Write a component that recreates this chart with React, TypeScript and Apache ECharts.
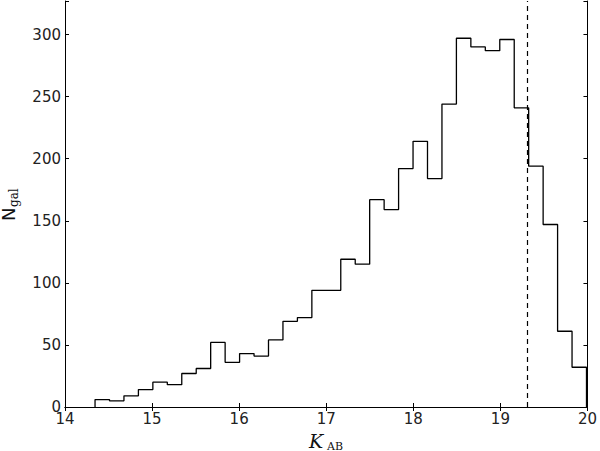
import React, { useEffect, useRef } from "react";
import * as echarts from "echarts";

// Histogram of K_AB magnitudes
const binStart = 14.345;
const binWidth = 0.166;
const counts = [
  6, 5, 9, 14, 20, 18, 27, 31, 52, 36, 43, 41, 54, 69, 72, 94, 94,
  119, 115, 167, 159, 192, 214, 184, 244, 297, 290, 287, 296, 241, 194, 147, 61, 32,
];
const limitMag = 19.31;
const xTicks = [14, 15, 16, 17, 18, 19, 20];
const yTicks = [0, 50, 100, 150, 200, 250, 300];
const yMax = 327;

export default function App() {
  const ref = useRef<HTMLDivElement>(null);
  useEffect(() => {
    if (!ref.current) return;
    document.body.style.margin = "0";
    const chart = echarts.init(ref.current, undefined, { renderer: "svg" });
    const pts: number[][] = [];
    counts.forEach((c, i) => {
      const l = binStart + i * binWidth;
      const r = l + binWidth;
      if (i === 0) pts.push([l, 0]);
      pts.push([l, c]);
      pts.push([r, c]);
      if (i === counts.length - 1) pts.push([r, 0]);
    });
    const labelFont = { fontFamily: "DejaVu Sans", fontSize: 15, color: "#222" };
    chart.setOption({
      animation: false,
      grid: { left: 65, right: 11, top: 1, bottom: 44, show: false },
      xAxis: [
        {
          type: "value",
          min: xTicks[0],
          max: xTicks[xTicks.length - 1],
          interval: 1,
          position: "bottom",
          axisLine: { show: true, lineStyle: { color: "#000", width: 1 } },
          axisTick: { show: true, inside: true, length: 4, lineStyle: { color: "#000" } },
          axisLabel: { ...labelFont, margin: 4 },
          splitLine: { show: false },
        },
        {
          type: "value",
          min: xTicks[0],
          max: xTicks[xTicks.length - 1],
          interval: 1,
          position: "top",
          axisLine: { show: true, lineStyle: { color: "#000", width: 1 } },
          axisTick: { show: true, inside: true, length: 4, lineStyle: { color: "#000" } },
          axisLabel: { show: false },
          splitLine: { show: false },
        },
      ],
      yAxis: [
        {
          type: "value",
          min: 0,
          max: yMax,
          interval: 50,
          position: "left",
          axisLine: { show: true, lineStyle: { color: "#000", width: 1 } },
          axisTick: { show: true, inside: true, length: 4, lineStyle: { color: "#000" } },
          axisLabel: {
            ...labelFont,
            margin: 4,
            formatter: (v: number) => (yTicks.includes(v) ? String(v) : ""),
          },
          splitLine: { show: false },
        },
        {
          type: "value",
          min: 0,
          max: yMax,
          interval: 50,
          position: "right",
          axisLine: { show: true, lineStyle: { color: "#000", width: 1 } },
          axisTick: { show: true, inside: true, length: 4, lineStyle: { color: "#000" } },
          axisLabel: { show: false },
          splitLine: { show: false },
        },
      ],
      series: [
        {
          type: "line",
          data: pts,
          showSymbol: false,
          symbol: "none",
          lineStyle: { color: "#000", width: 1.3 },
          markLine: {
            silent: true,
            symbol: "none",
            label: { show: false },
            lineStyle: { color: "#000", width: 1.2, type: [5, 4] },
            data: [{ xAxis: limitMag }],
          },
        },
      ],
      graphic: [
        {
          type: "text",
          x: 309,
          y: 441,
          style: {
            text: "K",
            font: "italic 19px 'DejaVu Serif'",
            fill: "#111",
            align: "left",
            verticalAlign: "middle",
          },
        },
        {
          type: "text",
          x: 327,
          y: 446,
          style: {
            text: "AB",
            font: "11px 'DejaVu Serif'",
            fill: "#111",
            align: "left",
            verticalAlign: "middle",
          },
        },
        {
          type: "group",
          x: 8,
          y: 204,
          rotation: Math.PI / 2,
          children: [
            {
              type: "text",
              x: -17,
              y: 0,
              style: {
                text: "N",
                font: "18px 'DejaVu Sans'",
                fill: "#111",
                align: "left",
                verticalAlign: "middle",
              },
            },
            {
              type: "text",
              x: -3,
              y: 6,
              style: {
                text: "gal",
                font: "12px 'DejaVu Serif'",
                fill: "#111",
                align: "left",
                verticalAlign: "middle",
              },
            },
          ],
        },
      ],
    });
    return () => chart.dispose();
  }, []);
  return <div ref={ref} style={{ width: 600, height: 451 }} />;
}
